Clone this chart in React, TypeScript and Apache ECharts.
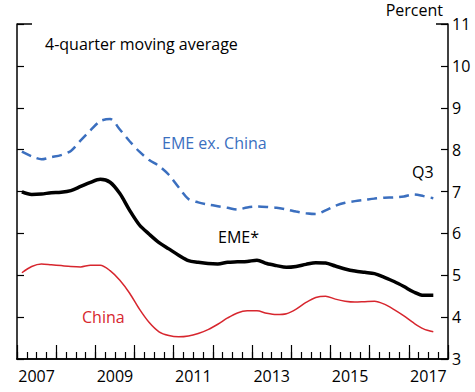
import React, { useEffect, useRef } from "react";
import * as echarts from "echarts";

const years = ["2007", "2008", "2009", "2010", "2011", "2012", "2013", "2014", "2015", "2016", "2017"];
const quarters: string[] = [];
years.forEach((y) => ["Q1", "Q2", "Q3", "Q4"].forEach((q) => quarters.push(y + q)));

const eme = [
  6.99, 6.93, 6.94, 6.97, 6.98, 7.02, 7.12, 7.22, 7.29, 7.22, 6.95, 6.55, 6.2, 5.98, 5.78, 5.63, 5.48,
  5.35, 5.31, 5.28, 5.27, 5.31, 5.32, 5.33, 5.36, 5.28, 5.23, 5.19, 5.21, 5.26, 5.3, 5.29, 5.22, 5.15,
  5.1, 5.07, 5.04, 4.95, 4.85, 4.73, 4.6, 4.52, 4.52,
];
const emeExChina = [
  7.95, 7.84, 7.77, 7.82, 7.87, 7.97, 8.22, 8.46, 8.68, 8.73, 8.48, 8.2, 7.95, 7.75, 7.61, 7.4, 7.1,
  6.82, 6.74, 6.69, 6.65, 6.61, 6.57, 6.62, 6.64, 6.63, 6.61, 6.57, 6.52, 6.48, 6.46, 6.55, 6.66, 6.73,
  6.77, 6.8, 6.83, 6.85, 6.86, 6.88, 6.93, 6.89, 6.84,
];
const china = [
  5.06, 5.21, 5.27, 5.25, 5.23, 5.21, 5.2, 5.24, 5.24, 5.11, 4.88, 4.57, 4.19, 3.87, 3.65, 3.56, 3.53,
  3.55, 3.61, 3.7, 3.83, 3.98, 4.1, 4.15, 4.15, 4.09, 4.06, 4.08, 4.19, 4.35, 4.47, 4.5, 4.43, 4.38,
  4.36, 4.37, 4.38, 4.31, 4.18, 4.03, 3.86, 3.72, 3.65,
];

const FONT = "Open Sans";
const FS = 16;
const BLUE = "#3b6fbf";
const RED = "#d7262e";

export default function App() {
  const ref = useRef<HTMLDivElement>(null);
  useEffect(() => {
    document.body.style.margin = "0";
    const chart = echarts.init(ref.current!, null, { renderer: "svg" });
    const axisLine = { show: true, lineStyle: { color: "#000", width: 1.5 } };
    const font = `${FS}px "${FONT}"`;
    chart.setOption({
      animation: false,
      backgroundColor: "#fff",
      textStyle: { fontFamily: FONT },
      grid: { left: 17, right: 27, top: 24, bottom: 33 },
      xAxis: [
        {
          type: "category",
          data: quarters,
          boundaryGap: true,
          position: "bottom",
          axisLine,
          axisTick: { show: true, inside: true, interval: 0, length: 7, lineStyle: { color: "#000", width: 1.2 } },
          axisLabel: { show: false },
          splitLine: { show: false },
        },
        {
          type: "category",
          data: years,
          boundaryGap: true,
          position: "bottom",
          axisLine,
          axisTick: { show: true, inside: true, interval: 0, length: 14, lineStyle: { color: "#000", width: 1.2 } },
          axisLabel: { show: true, interval: 1, color: "#000", fontSize: FS, fontFamily: FONT, margin: 9 },
          splitLine: { show: false },
        },
      ],
      yAxis: [
        {
          type: "value",
          position: "right",
          min: 3,
          max: 11,
          interval: 1,
          axisLine,
          axisTick: { show: true, inside: true, length: 7, lineStyle: { color: "#000", width: 1.2 } },
          axisLabel: { show: true, color: "#000", fontSize: FS, fontFamily: FONT, margin: 4 },
          splitLine: { show: false },
        },
        {
          type: "value",
          position: "left",
          min: 3,
          max: 11,
          interval: 1,
          axisLine,
          axisTick: { show: true, inside: true, length: 7, lineStyle: { color: "#000", width: 1.2 } },
          axisLabel: { show: false },
          splitLine: { show: false },
        },
      ],
      series: [
        {
          name: "EME ex. China",
          type: "line",
          data: emeExChina,
          xAxisIndex: 0,
          yAxisIndex: 0,
          showSymbol: false,
          smooth: 0.3,
          lineStyle: { color: BLUE, width: 2.5, type: [10, 6] },
        },
        {
          name: "China",
          type: "line",
          data: china,
          xAxisIndex: 0,
          yAxisIndex: 0,
          showSymbol: false,
          smooth: 0.3,
          lineStyle: { color: RED, width: 1.5 },
        },
        {
          name: "EME*",
          type: "line",
          data: eme,
          xAxisIndex: 0,
          yAxisIndex: 0,
          showSymbol: false,
          smooth: 0.3,
          lineStyle: { color: "#000", width: 3.5 },
        },
      ],
      graphic: [
        { type: "line", shape: { x1: 17, y1: 24, x2: 32, y2: 24 }, style: { stroke: "#000", lineWidth: 1.5 } },
        { type: "line", shape: { x1: 436, y1: 24, x2: 448, y2: 24 }, style: { stroke: "#000", lineWidth: 1.5 } },
        { type: "text", x: 443, y: 2, style: { text: "Percent", fill: "#000", font, textAlign: "right", textVerticalAlign: "top" } },
        { type: "text", x: 45, y: 44, style: { text: "4-quarter moving average", fill: "#000", font, textAlign: "left", textVerticalAlign: "middle" } },
        { type: "text", x: 162, y: 143, style: { text: "EME ex. China", fill: BLUE, font, textAlign: "left", textVerticalAlign: "middle" } },
        { type: "text", x: 412, y: 172, style: { text: "Q3", fill: "#000", font, textAlign: "left", textVerticalAlign: "middle" } },
        { type: "text", x: 218, y: 237, style: { text: "EME*", fill: "#000", font, textAlign: "left", textVerticalAlign: "middle" } },
        { type: "text", x: 82, y: 317, style: { text: "China", fill: RED, font, textAlign: "left", textVerticalAlign: "middle" } },
      ],
    });
    return () => chart.dispose();
  }, []);
  return <div ref={ref} style={{ width: 475, height: 392 }} />;
}
